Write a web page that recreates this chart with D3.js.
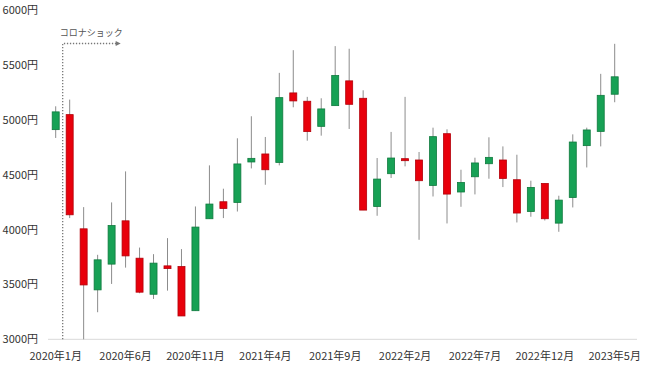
<!DOCTYPE html>
<html>
<head>
<meta charset="utf-8">
<script src="https://cdn.jsdelivr.net/npm/d3@7"></script>
<style>
  body { margin: 0; background: #fff; }
  text { font-family: "Noto Sans CJK JP", "Noto Sans", sans-serif; fill: #333; }
</style>
</head>
<body>
<div class="g-chart"></div>
<script>
// monthly candles, 2020/1 - 2023/5
var months = ["2020-01","2020-02","2020-03","2020-04","2020-05","2020-06","2020-07","2020-08","2020-09","2020-10","2020-11","2020-12",
  "2021-01","2021-02","2021-03","2021-04","2021-05","2021-06","2021-07","2021-08","2021-09","2021-10","2021-11","2021-12",
  "2022-01","2022-02","2022-03","2022-04","2022-05","2022-06","2022-07","2022-08","2022-09","2022-10","2022-11","2022-12",
  "2023-01","2023-02","2023-03","2023-04","2023-05"];
var open  = [4913,5050,4008,3451,3686,4081,3740,3411,3670,3664,3261,4100,4255,4249,4618,4691,4614,5248,5172,4943,5132,5358,5199,4212,4511,4648,4636,4404,4876,4344,4483,4602,4636,4456,4166,4422,4060,4294,4767,4897,5236];
var close = [5075,4136,3496,3725,4038,3761,3430,3695,3645,3213,4024,4234,4194,4600,4651,4547,5205,5175,4895,5102,5407,5144,4179,4462,4654,4630,4447,4849,4325,4431,4609,4660,4468,4152,4386,4100,4270,4800,4910,5226,5395];
var high  = [5126,5187,4206,3771,4249,4532,3837,3777,3923,3823,4212,4587,4374,4834,5035,4846,5431,5638,5212,5199,5675,5651,5272,4654,4892,5212,4709,4931,4916,4547,4657,4843,4760,4684,4447,4422,4310,4870,4931,5422,5696];
var low   = [4837,4106,2990,3247,3505,3654,3420,3368,3444,3213,3261,4100,4106,4166,4559,4410,4587,5117,4812,4858,5132,4919,4179,4127,4472,4578,3908,4303,4057,4209,4322,4465,4389,4066,4118,4084,3981,4203,4568,4760,5163];

var yTicks = [3000,3500,4000,4500,5000,5500,6000];
var xTickMonths = ["2020-01","2020-06","2020-11","2021-04","2021-09","2022-02","2022-07","2022-12","2023-05"];
var annotation = "コロナショック";

var width = 660, height = 371;

var data = months.map(function(m, i){
  return { month: m, open: open[i], close: close[i], high: high[i], low: low[i] };
});

var svg = d3.select(".g-chart").append("svg")
    .attr("width", width)
    .attr("height", height);

var x = d3.scalePoint()
    .domain(months)
    .range([55.7, 614.7]);

var y = d3.scaleLinear()
    .domain([3000, 6000])
    .range([339.3, 10.5]);

var step = x.step();
var bodyW = 7;

function monthLabel(m){
  var p = m.split("-");
  return p[0] + "年" + (+p[1]) + "月";
}

// baseline
svg.append("line")
    .attr("x1", 48).attr("x2", 637)
    .attr("y1", y(3000)).attr("y2", y(3000))
    .attr("stroke", "#d9d9d9")
    .attr("stroke-width", 1);

// y labels
svg.append("g").selectAll("text")
  .data(yTicks)
  .enter().append("text")
    .attr("x", 38)
    .attr("y", function(d){ return y(d); })
    .attr("dy", "0.35em")
    .attr("text-anchor", "end")
    .style("font-size", "11px")
    .text(function(d){ return d + "円"; });

// x labels
svg.append("g").selectAll("text")
  .data(xTickMonths)
  .enter().append("text")
    .attr("x", function(d){ return x(d); })
    .attr("y", 360)
    .attr("text-anchor", "middle")
    .style("font-size", "11px")
    .text(monthLabel);

// corona annotation
var ax = x(months[0]) + step / 2;
var ay = 43.5;
svg.append("path")
    .attr("d", "M" + ax + "," + y(3000) + "V" + ay + "H" + (ax + 54))
    .attr("fill", "none")
    .attr("stroke", "#777")
    .attr("stroke-width", 1.3)
    .attr("stroke-dasharray", "1.3,1.7");
svg.append("path")
    .attr("d", "M" + (ax + 53) + "," + (ay - 2.5) + "L" + (ax + 58) + "," + ay + "L" + (ax + 53) + "," + (ay + 2.5) + "Z")
    .attr("fill", "#777");
svg.append("text")
    .attr("x", ax - 3)
    .attr("y", 36)
    .style("font-size", "9px")
    .style("fill", "#555")
    .text(annotation);

// candles
var candle = svg.append("g").selectAll(".candle")
  .data(data)
  .enter().append("g")
    .attr("class", "candle");

candle.append("line")
    .attr("x1", function(d){ return x(d.month); })
    .attr("x2", function(d){ return x(d.month); })
    .attr("y1", function(d){ return y(d.high); })
    .attr("y2", function(d){ return y(Math.max(d.low, 3000)); })
    .attr("stroke", "#8c8c8c")
    .attr("stroke-width", 1);

candle.append("rect")
    .attr("x", function(d){ return x(d.month) - bodyW / 2; })
    .attr("y", function(d){ return y(Math.max(d.open, d.close)); })
    .attr("width", bodyW)
    .attr("height", function(d){ return Math.max(2, y(Math.min(d.open, d.close)) - y(Math.max(d.open, d.close))); })
    .attr("fill", function(d){ return d.close >= d.open ? "#17a155" : "#e8000b"; })
    .attr("stroke", function(d){ return d.close >= d.open ? "#0f7a3e" : "#b3000a"; })
    .attr("stroke-width", 0.8);
</script>
</body>
</html>
